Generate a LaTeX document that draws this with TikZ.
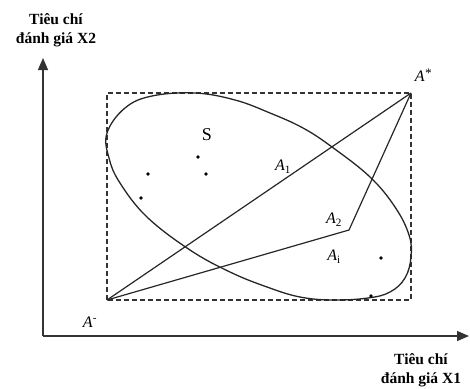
\documentclass[tikz,border=0pt]{standalone}
\usepackage{fontspec}
\setmainfont{Liberation Serif}
\usetikzlibrary{arrows.meta}
\begin{document}
\begin{tikzpicture}[x=1pt,y=-1pt,
  axis/.style={line width=1.3pt,draw=black!80,-{Triangle[length=12pt,width=10pt]}},
  boxline/.style={line width=1.3pt,draw=black!80,dash pattern=on 5pt off 3pt},
  conn/.style={line width=1.2pt,draw=black!85},
  curve/.style={line width=1.3pt,draw=black!85},
  pt/.style={circle,fill=black,inner sep=0pt,minimum size=3.6pt},
  axlabel/.style={font=\fontsize{15.5}{19}\selectfont\bfseries,align=center,inner sep=0pt},
  lab/.style={font=\fontsize{16}{18}\selectfont\itshape,inner sep=0pt}]
\useasboundingbox (0,0) rectangle (470,388);
% axes
\coordinate (O) at (43,336);
\coordinate (ytip) at (43,58);
\coordinate (xtip) at (469,336);
\draw[axis] (O) -- (ytip);
\draw[axis] (O) -- (xtip);
\node[axlabel] (ylab) at (56,30) {Tiêu chí\\đánh giá X2};
\node[axlabel] (xlab) at (421,370) {Tiêu chí\\đánh giá X1};
% key points
\coordinate (Astar) at (411,93);
\coordinate (Aminus) at (107,300);
\coordinate (Atwo) at (349,230);
% dashed box
\draw[boxline] (Aminus) rectangle (Astar);
% region S
\draw[curve] plot[smooth cycle, tension=0.65] coordinates {
  (107,133) (125,108) (152,96) (195,93) (235,100) (270,113) (303,128)
  (332,147) (370,177) (395,207) (409,235) (411,257) (405,278) (390,292)
  (368,298) (333,300) (300,297) (267,287) (230,272) (190,250) (147,217)
  (120,183) (109,158)};
% connectors
\draw[conn] (Aminus) -- (Astar);
\draw[conn] (Aminus) -- (Atwo) -- (Astar);
% points
\node[pt] (p1) at (198,157) {};
\node[pt] (p2) at (206,174) {};
\node[pt] (p3) at (148,174) {};
\node[pt] (p4) at (141,198) {};
\node[pt] (p5) at (381,258) {};
\node[pt] (p6) at (371,296) {};
% labels
\node[font=\fontsize{18}{18}\selectfont,inner sep=0pt] (S) at (207,135) {S};
\node[lab] (lAstar) at (423,75) {A\raisebox{4pt}{\fontsize{13}{13}\selectfont *}};
\node[lab] (lAminus) at (90,322) {A\textsuperscript{\upshape -}};
\node[lab] (lA1) at (283,167) {A\textsubscript{\upshape 1}};
\node[lab] (lA2) at (334,220) {A\textsubscript{\upshape 2}};
\node[lab] (lAi) at (334,257) {A\textsubscript{\upshape i}};
\end{tikzpicture}
\end{document}
